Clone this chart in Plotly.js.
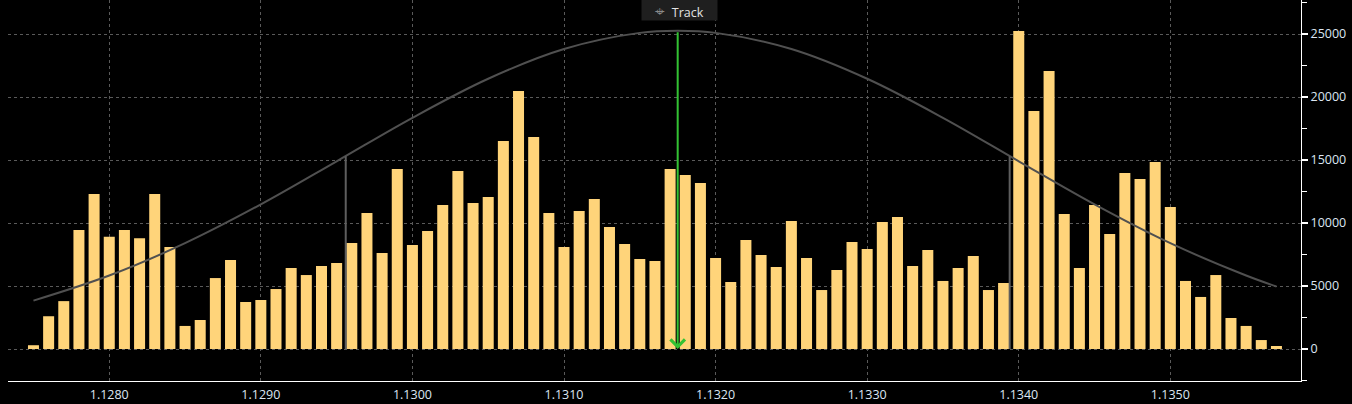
<!DOCTYPE html>
<html>
<head>
<meta charset="utf-8">
<script src="https://cdn.plot.ly/plotly-3.0.1.min.js"></script>
<style>
  html, body { margin: 0; padding: 0; background: #000; }
  #chart { width: 1352px; height: 404px; }
</style>
</head>
<body>
<div id="chart"></div>
<script>
// Price bins (0.0001 each), volume per bin
const priceBins = [
  1.1275, 1.1276, 1.1277, 1.1278, 1.1279, 1.1280, 1.1281, 1.1282, 1.1283, 1.1284,
  1.1285, 1.1286, 1.1287, 1.1288, 1.1289, 1.1290, 1.1291, 1.1292, 1.1293, 1.1294,
  1.1295, 1.1296, 1.1297, 1.1298, 1.1299, 1.1300, 1.1301, 1.1302, 1.1303, 1.1304,
  1.1305, 1.1306, 1.1307, 1.1308, 1.1309, 1.1310, 1.1311, 1.1312, 1.1313, 1.1314,
  1.1315, 1.1316, 1.1317, 1.1318, 1.1319, 1.1320, 1.1321, 1.1322, 1.1323, 1.1324,
  1.1325, 1.1326, 1.1327, 1.1328, 1.1329, 1.1330, 1.1331, 1.1332, 1.1333, 1.1334,
  1.1335, 1.1336, 1.1337, 1.1338, 1.1339, 1.1340, 1.1341, 1.1342, 1.1343, 1.1344,
  1.1345, 1.1346, 1.1347, 1.1348, 1.1349, 1.1350, 1.1351, 1.1352, 1.1353, 1.1354,
  1.1355, 1.1356, 1.1357
];
const volumes = [
  300, 2600, 3800, 9450, 12300, 8900, 9450, 8800, 12300, 8100,
  1830, 2300, 5630, 7060, 3730, 3890, 4760, 6430, 5870, 6590,
  6830, 8410, 10790, 7620, 14290, 8250, 9370, 11430, 14130, 11590,
  12060, 16510, 20480, 16830, 10790, 8100, 10950, 11900, 9680, 8330,
  7140, 6980, 14290, 13810, 13180, 7220, 5320, 8650, 7460, 6510,
  10160, 7220, 4680, 6270, 8490, 7940, 10080, 10480, 6590, 7860,
  5400, 6430, 7380, 4680, 5240, 25240, 18890, 22060, 10710, 6430,
  11430, 9130, 13970, 13490, 14840, 11270, 5400, 4130, 5870, 2460,
  1830, 710, 240
];

// Fitted distribution curve
const curveX = [
  1.1275, 1.1280, 1.1285, 1.1290, 1.1295, 1.1300, 1.1305, 1.1310, 1.1315, 1.13175,
  1.1320, 1.1325, 1.1330, 1.1335, 1.1340, 1.1345, 1.1350, 1.1355, 1.1357
];
const curveY = [
  3840, 5830, 8400, 11480, 14900, 18350, 21450, 23810, 25090, 25250,
  25090, 23810, 21450, 18350, 14900, 11480, 8400, 5830, 4960
];

// Markers: mean (arrow) and +/- 1 sigma lines
const meanPrice = 1.13175;
const meanLevel = 25250;
const sigmaPrices = [1.12956, 1.13394];
const sigmaLevel = 15300;

const yTicks = [0, 5000, 10000, 15000, 20000, 25000];
const yTickText = ['0', '5000', '10000', '15000', '20000', '25000'];
const xTicks = [1.1280, 1.1290, 1.1300, 1.1310, 1.1320, 1.1330, 1.1340, 1.1350];
const xTickText = ['1.1280', '1.1290', '1.1300', '1.1310', '1.1320', '1.1330', '1.1340', '1.1350'];
const trackLabel = 'Track';

const tickFont = { family: 'Open Sans, Noto Sans, sans-serif', size: 12.5, color: '#dce6f2' };

const traces = [
  {
    type: 'bar',
    x: priceBins,
    y: volumes,
    marker: { color: '#ffd47a', line: { width: 0 } },
    hoverinfo: 'x+y',
    showlegend: false
  },
  {
    type: 'scatter',
    mode: 'lines',
    x: curveX,
    y: curveY,
    line: { color: '#505050', width: 2, shape: 'spline' },
    hoverinfo: 'skip',
    showlegend: false
  }
];

const shapes = sigmaPrices.map(p => ({
  type: 'line', xref: 'x', yref: 'y',
  x0: p, x1: p, y0: 0, y1: sigmaLevel,
  line: { color: '#5e5e5e', width: 2 }
}));

const annotations = [
  {
    xref: 'x', yref: 'y', axref: 'x', ayref: 'y',
    x: meanPrice, y: 0, ax: meanPrice, ay: meanLevel,
    text: '', showarrow: true,
    arrowhead: 4, arrowsize: 1.4, arrowwidth: 2, arrowcolor: '#33c233'
  },
  {
    xref: 'x', yref: 'paper',
    x: meanPrice, y: 1, yanchor: 'top', xanchor: 'center',
    xshift: 2, yshift: 1,
    width: 75, height: 20,
    text: '<span style="color:#8a8a8a;font-size:17px">⌖</span>  ' + trackLabel,
    showarrow: false,
    bgcolor: '#1f1f1f',
    borderpad: 0,
    font: { family: 'Open Sans, Noto Sans, sans-serif', size: 12.5, color: '#e2e2e2' }
  }
];

const layout = {
  width: 1352, height: 404,
  paper_bgcolor: '#000000', plot_bgcolor: '#000000',
  margin: { l: 8, r: 51, t: 0, b: 23, pad: 0 },
  bargap: 0.274,
  showlegend: false,
  xaxis: {
    range: [1.127332, 1.135862],
    tickvals: xTicks,
    ticktext: xTickText,
    ticks: '',
    showline: true, linecolor: '#ffffff', linewidth: 1,
    showgrid: true, gridcolor: '#5a5a5a', griddash: 'dot', gridwidth: 1,
    zeroline: false,
    tickfont: tickFont,
    ticklabelstandoff: 2
  },
  yaxis: {
    side: 'right',
    range: [-2540, 27700],
    tickvals: yTicks,
    ticktext: yTickText,
    ticks: 'outside', ticklen: 6, tickwidth: 2, tickcolor: '#ffffff',
    minor: { dtick: 2500, tick0: 0, ticks: 'outside', ticklen: 5, tickwidth: 1, tickcolor: '#ffffff', showgrid: false },
    showline: true, linecolor: '#ffffff', linewidth: 1,
    showgrid: true, gridcolor: '#5a5a5a', griddash: 'dot', gridwidth: 1,
    zeroline: false,
    tickfont: tickFont
  },
  shapes: shapes,
  annotations: annotations
};

Plotly.newPlot('chart', traces, layout, { displayModeBar: false, staticPlot: true });
</script>
</body>
</html>
